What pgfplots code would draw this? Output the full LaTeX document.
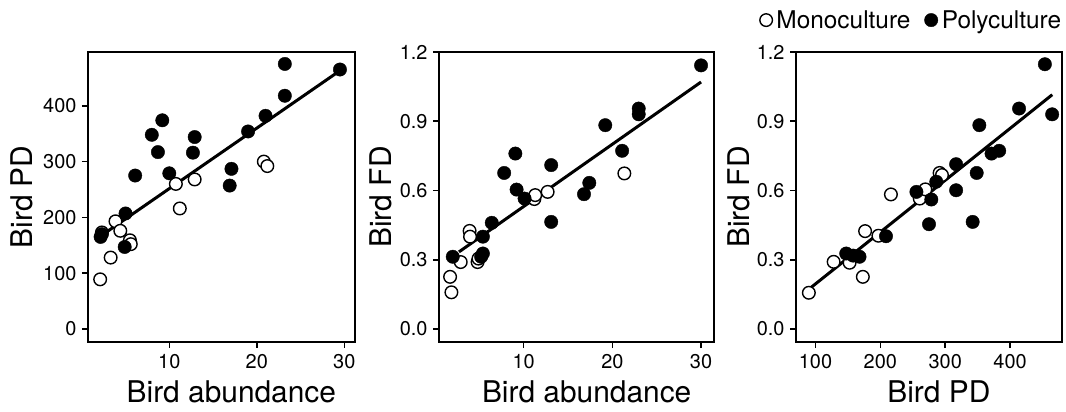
\documentclass[border=0pt]{standalone}
\usepackage{fontspec}
\setmainfont{TeX Gyre Heros}
\usepackage{pgfplots}
\pgfplotsset{compat=1.18}
\begin{document}
\begin{tikzpicture}
\useasboundingbox (0,0) rectangle (1066bp,412bp);
\pgfplotsset{
  myax/.style={
    scale only axis, height=290bp, anchor=south west,
    axis line style={line width=2.2bp},
    tick align=outside, xtick pos=left, ytick pos=left,
    major tick length=6bp,
    every tick/.style={line width=1.5bp, black},
    tick label style={font=\fontsize{20}{22}\selectfont},
    xticklabel style={yshift=-3bp},
    yticklabel style={xshift=-2bp},
    label style={font=\fontsize{30}{32}\selectfont},
    /pgf/number format/assume math mode=true,
    clip=false,
  },
  openm/.style={only marks, mark=*, mark size=6.3bp, mark options={fill=white, draw=black, line width=1.4bp}},
  fillm/.style={only marks, mark=*, mark size=6.7bp, mark options={fill=black, draw=black}},
  regl/.style={no marks, line width=3bp, black, forget plot},
}
% Panel 1
\begin{axis}[myax, at={(88bp,70bp)}, width=267bp,
  xmin=0.71, xmax=31.22, ymin=-23.3, ymax=496.4,
  xtick={10,20,30}, ytick={0,100,200,300,400},
  xlabel={Bird abundance}, ylabel={Bird PD},
  xlabel style={at={(axis description cs:0.537,-0.210)}, anchor=base},
  ylabel style={at={(axis description cs:-0.206,0.5)}, anchor=base}]
\addplot[openm] coordinates {(2.3,173) (3.85,193) (4.4,176) (5.5,159) (5.6,152) (3.3,128) (2.1,89) (10.75,260) (12.9,268) (11.2,216) (20.8,300) (21.2,292)};
\addplot[fillm] coordinates {(23.2,475) (29.5,465) (23.2,418) (21.0,382) (19.0,354) (9.2,374) (8.0,348) (8.7,317) (12.9,344) (12.7,316) (10.0,279) (6.1,275) (17.1,287) (16.9,257) (5.0,207) (2.15,165) (2.3,170) (4.9,147)};
\addplot[regl] coordinates {(2.2,167) (29.5,463)};
\end{axis}
% Panel 2
\begin{axis}[myax, at={(439bp,70bp)}, width=275bp,
  xmin=0.45, xmax=31.46, ymin=-0.0563, ymax=1.2,
  xtick={10,20,30}, ytick={0,0.3,0.6,0.9,1.2},
  yticklabel style={/pgf/number format/.cd, fixed, fixed zerofill, precision=1},
  xlabel={Bird abundance}, ylabel={Bird FD},
  xlabel style={at={(axis description cs:0.537,-0.210)}, anchor=base},
  ylabel style={at={(axis description cs:-0.171,0.5)}, anchor=base}]
\addplot[openm] coordinates {(3.9,0.425) (3.95,0.40) (4.8,0.29) (4.9,0.305) (2.9,0.29) (1.7,0.226) (1.85,0.159) (11.2,0.563) (11.3,0.58) (12.7,0.594) (21.35,0.674)};
\addplot[fillm] coordinates {(30.0,1.142) (22.97,0.955) (22.97,0.930) (19.2,0.883) (21.1,0.772) (17.4,0.633) (16.8,0.584) (13.1,0.710) (13.1,0.464) (9.06,0.760) (7.8,0.676) (9.2,0.604) (10.1,0.565) (6.4,0.460) (5.4,0.40) (5.4,0.327) (5.2,0.313) (2.0,0.313)};
\addplot[regl] coordinates {(2.7,0.334) (30.0,1.070)};
\end{axis}
% Panel 3
\begin{axis}[myax, at={(796bp,70bp)}, width=266bp,
  xmin=70, xmax=480, ymin=-0.0563, ymax=1.2,
  xtick={100,200,300,400}, ytick={0,0.3,0.6,0.9,1.2},
  yticklabel style={/pgf/number format/.cd, fixed, fixed zerofill, precision=1},
  xlabel={Bird PD}, ylabel={Bird FD},
  xlabel style={at={(axis description cs:0.537,-0.210)}, anchor=base},
  ylabel style={at={(axis description cs:-0.176,0.5)}, anchor=base},
  legend columns=2,
  legend image code/.code={\draw[#1] plot coordinates {(0.22cm,0cm)};},
  legend style={at={(axis description cs:1.005,1.11)}, anchor=east, draw=none, fill=none, inner sep=0pt,
    font=\fontsize{24.5}{27}\selectfont, column sep=2bp,
    /tikz/every even column/.append style={column sep=12bp}},
  ]
\addplot[openm] coordinates {(89.8,0.157) (128,0.291) (152.6,0.287) (173,0.226) (176.5,0.424) (197,0.404) (216.3,0.583) (260.7,0.565) (269.4,0.605) (291.3,0.676) (295,0.667)};
\addlegendentry{Monoculture}
\addplot[fillm] coordinates {(453.6,1.147) (464.8,0.930) (413.8,0.955) (352.6,0.883) (371.4,0.760) (383.2,0.772) (316.8,0.714) (348.5,0.676) (316.8,0.601) (342.3,0.464) (286.2,0.638) (255.6,0.594) (278.6,0.561) (275.0,0.454) (208.7,0.402) (147.4,0.327) (167.9,0.313) (158,0.318)};
\addlegendentry{Polyculture}
\addplot[regl] coordinates {(91,0.175) (465,1.015)};
\end{axis}
\end{tikzpicture}
\end{document}
